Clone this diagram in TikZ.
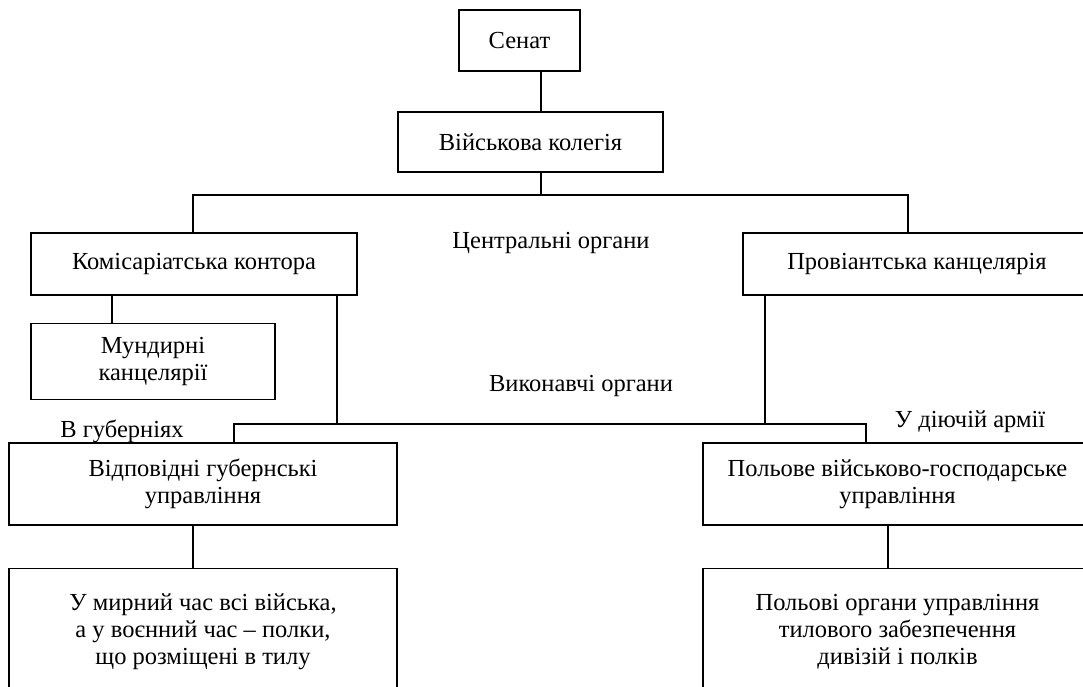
\documentclass[tikz,border=0pt]{standalone}
\usepackage{fontspec}
\setmainfont{Liberation Serif}
\usetikzlibrary{positioning}
\tikzset{box/.style={
        draw, 
        rectangle, 
        inner sep=0pt, 
        align=center } }
\tikzset{caption/.style={
        inner sep=0pt } }

\begin{document}
\begin{tikzpicture}[x=1pt,y=-1pt,line width=1.3pt,font=\fontsize{24.5}{27}\selectfont]

\useasboundingbox (0,0) rectangle (1083,686);
\clip (0,0) rectangle (1083,686);

% central organs
\node[box, minimum width=121pt, minimum height=61pt] (senat) at (519.5,40.5) {Сенат};
\node[box, minimum width=265pt, minimum height=60pt] (kolegia) at (530.5,142) {Військова колегія};
\node[box, minimum width=326pt, minimum height=62pt] (komis) at (194,264) {Комісаріатська контора};
\node[box, minimum width=348pt, minimum height=62pt] (proviant) at (917,264) {Провіантська канцелярія};
\node[box, minimum width=244pt, minimum height=76pt] (mundyr) 
[below right=27pt and 0pt of komis.south west] {Мундирні\\канцелярії};

% executive organs
\node[box, minimum width=388pt, minimum height=82pt] (vidpov) at (203,484) {Відповідні губернські\\управління};
\node[box, minimum width=389pt, minimum height=82pt] (polove) at (897.5,484) {Польове військово-господарське\\управління};
\node[box, minimum width=388pt, minimum height=126pt] (myrnyi) 
[below right=42pt and 0pt of vidpov.south west] {У мирний час всі війська,\\а у воєнний час -- полки,\\що розміщені в тилу};
\node[box, minimum width=389pt, minimum height=126pt] (polovi) 
[below right=42pt and 0pt of polove.south west] {Польові органи управління\\тилового забезпечення\\дивізій і полків};

\node[caption] (central) at (551,243) {Центральні органи};
\node[caption] (vykon) at (581,386) {Виконавчі органи};
\node[caption] (gub) at (122,431) {В губерніях};
\node[caption] (army) at (970,422) {У діючій армії};

\coordinate (trunk) at (541,195);
\coordinate (cl) at (193,195);
\coordinate (cr) at (908,195);
\coordinate (kd) at (337,424);
\coordinate (pd) at (765,424);
\coordinate (gl) at (234,424);
\coordinate (ar) at (866,424);
\coordinate (ml) at (112,0);
\coordinate (vl) at (193,0);
\coordinate (pl) at (888,0);

\draw (senat.south -| trunk) -- (kolegia.north -| trunk);
\draw (kolegia.south -| trunk) -- (trunk);
\draw (komis.north -| cl) |- (cr) -- (proviant.north -| cr);
\draw (komis.south -| ml) -- (mundyr.north -| ml);
\draw (komis.south -| kd) -- (kd);
\draw (proviant.south -| pd) -- (pd);
\draw (vidpov.north -| gl) |- (ar) -- (polove.north -| ar);
\draw (vidpov.south -| vl) -- (myrnyi.north -| vl);
\draw (polove.south -| pl) -- (polovi.north -| pl);

\end{tikzpicture}
\end{document}
